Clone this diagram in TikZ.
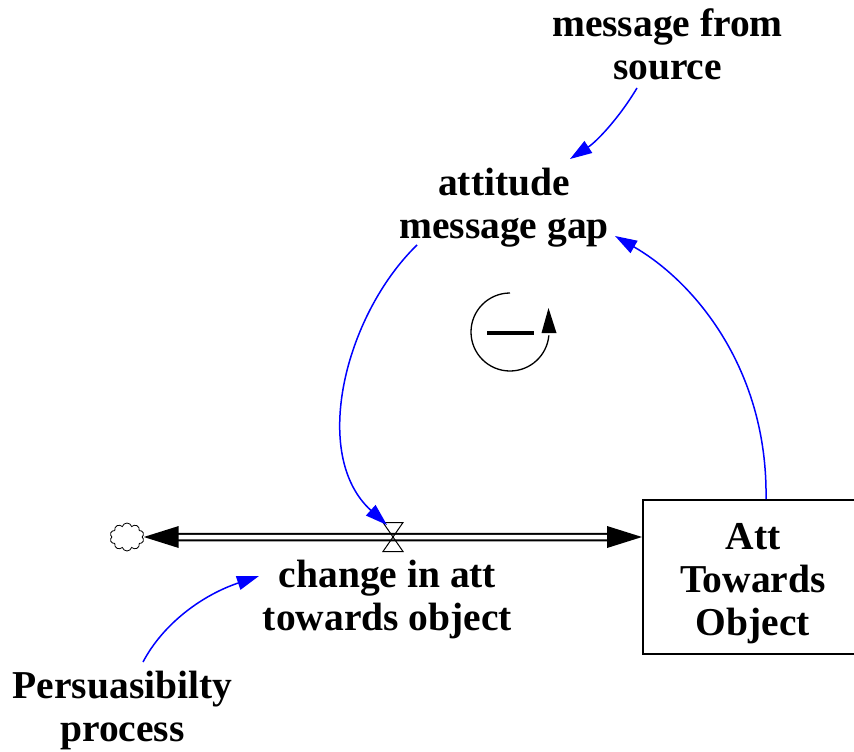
\documentclass[tikz,border=0pt]{standalone}
\usepackage{fontspec}
\setmainfont{Liberation Serif}
\usetikzlibrary{arrows.meta,shapes.symbols}
\begin{document}
\begin{tikzpicture}[x=1pt,y=-1pt,
  lbl/.style={font=\bfseries\fontsize{39.5}{43}\selectfont, align=center, inner sep=0pt, anchor=base},
  link/.style={draw=blue, line width=1.5pt, -{Triangle[length=22pt,width=14pt]}},
  pipe/.style={double, double distance=4.5pt, line width=2pt, draw=black},
  stock/.style={draw, line width=2pt, minimum width=220pt, minimum height=154pt, inner sep=0pt},
  sourcecloud/.style={cloud, cloud puffs=10, aspect=1.2, draw, line width=0.8pt, minimum width=34pt, minimum height=28pt, inner sep=0pt},
]
\useasboundingbox (0,0) rectangle (854,752);

% labels (base = baseline of the last line)
\node[lbl] (src) at (667.5,79) {message from\\source};
\node[lbl] (gap) at (504,238) {attitude\\message gap};
\node[lbl] (flow) at (387.5,630) {change in att\\towards object};
\node[lbl] (pers) at (122.5,741) {Persuasibilty\\process};

% stock
\node[stock] (box) at (753,577) {};
\node[lbl] (boxlbl) at (753,635) {Att\\Towards\\Object};

% cloud and valve
\node[sourcecloud] (cloud) at (127,537) {};
\coordinate (valve) at (393,537);
\coordinate (boxIn) at ([yshift=40pt]box.west);

% pipe
\draw[pipe] ([xshift=25pt]cloud.east) -- ([xshift=-25pt]boxIn);
\fill ([xshift=1pt]cloud.east) -- ++(35,-11) -- ++(0,22) -- cycle;
\fill (boxIn) -- ++(-35,-11) -- ++(0,22) -- cycle;
\draw[line width=1pt, line join=miter] ([shift={(-10,-14.5)}]valve) -- ([shift={(10,-14.5)}]valve) -- ([shift={(-10,14.5)}]valve) -- ([shift={(10,14.5)}]valve) -- cycle;

% link end points
\coordinate (srcOut) at (637,88);
\coordinate (gapIn) at (570,159);
\coordinate (persOut) at (143,662);
\coordinate (flowIn) at (259,576);
\coordinate (boxOut) at ([xshift=13pt]box.north);
\coordinate (gapIn2) at (615,236);
\coordinate (gapOut) at (417,245);
\coordinate (valveIn) at (387,525);

\draw[link] (srcOut) .. controls (619.3,117.7) and (597,141.3) .. (gapIn);
\draw[link] (persOut) .. controls (163,624) and (201.7,595.3) .. (flowIn);
\draw[link] (boxOut) .. controls (768,370) and (695,282) .. (gapIn2);
\draw[link] (gapOut) .. controls (345,315) and (310,455) .. (valveIn);

% loop symbol
\coordinate (loop) at (510,332);
\draw[line width=1.3pt] ([yshift=39pt]loop) arc[start angle=90, end angle=355, radius=39pt];
\fill (548.5,308) -- (556.5,333) -- (541.5,333) -- cycle;
\draw[line width=4pt] (487,333) -- (534,333);
\end{tikzpicture}
\end{document}
